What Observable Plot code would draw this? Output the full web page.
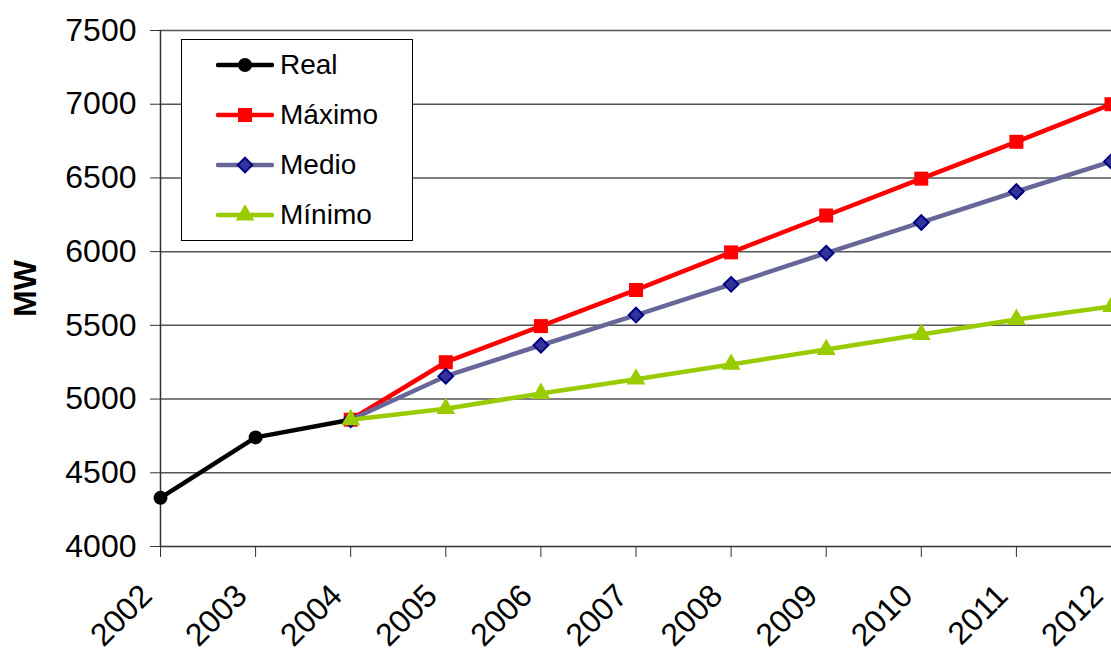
<!DOCTYPE html>
<html>
<head>
<meta charset="utf-8">
<script src="https://cdn.jsdelivr.net/npm/d3@7"></script>
<script src="https://cdn.jsdelivr.net/npm/@observablehq/plot@0.6"></script>
<style>
  html, body { margin: 0; padding: 0; background: #fff; overflow: hidden; }
  #wrap { position: relative; width: 1111px; height: 657px; font-family: "Liberation Sans", Arial, sans-serif; }
  #legend { position: absolute; left: 181px; top: 39px; width: 232px; height: 202px; border: 1.5px solid #000; background: #fff; box-sizing: border-box; }
  .item { position: absolute; left: 34px; height: 40px; display: flex; align-items: center; font-size: 28px; color: #000; }
  .item svg { margin-right: 6px; }
</style>
</head>
<body>
<div id="wrap"><div id="legend"></div></div>
<script>
const years = [2002, 2003, 2004, 2005, 2006, 2007, 2008, 2009, 2010, 2011, 2012];
const yTicks = [4000, 4500, 5000, 5500, 6000, 6500, 7000, 7500];
const realYears = [2002, 2003, 2004];
const real = [4330, 4740, 4860];
const projYears = [2004, 2005, 2006, 2007, 2008, 2009, 2010, 2011, 2012];
const maximo = [4860, 5250, 5495, 5740, 5995, 6245, 6495, 6745, 7000];
const medio = [4860, 5155, 5365, 5570, 5778, 5990, 6198, 6408, 6612];
const minimo = [4860, 4935, 5038, 5135, 5235, 5336, 5438, 5540, 5628];

const series = [
  {name: "Real", xs: realYears, ys: real, line: "#000000", fill: "#000000", stroke: "none", symbol: "circle", r: 7, sw: 0},
  {name: "Máximo", xs: projYears, ys: maximo, line: "#ff0000", fill: "#ff0000", stroke: "none", symbol: "square", r: 7.9, sw: 0},
  {name: "Medio", xs: projYears, ys: medio, line: "#666699", fill: "#333399", stroke: "#000080", symbol: "diamond2", r: 6.6, sw: 2},
  {name: "Mínimo", xs: projYears, ys: minimo, line: "#99cc00", fill: "#99cc00", stroke: "none", symbol: "triangle", r: 7, sw: 0}
];

const marks = [
  Plot.ruleY(yTicks.slice(1), {stroke: "#555", strokeWidth: 1.5}),
  Plot.ruleY([4000], {stroke: "#333", strokeWidth: 1.5}),
  Plot.ruleX([2002], {stroke: "#333", strokeWidth: 1.5}),
  Plot.axisY({ticks: yTicks, tickFormat: d => String(d), tickSize: 10, tickPadding: 14, fontSize: 32, label: null, stroke: "#333"}),
  Plot.axisX({ticks: years, tickFormat: () => "", tickSize: 11, label: null, stroke: "#333"}),
  Plot.axisX({ticks: years, tickFormat: d => String(d), tickRotate: -45, tickSize: 0, tickPadding: 44, dx: -14, fontSize: 32, label: null}),
  Plot.text(["MW"], {frameAnchor: "left", textAnchor: "middle", rotate: -90, dx: -135, fontWeight: "bold", fontSize: 32, fill: "#000"})
];
for (const s of series) {
  const data = s.xs.map((x, i) => ({x, y: s.ys[i]}));
  marks.push(Plot.line(data, {x: "x", y: "y", stroke: s.line, strokeWidth: 4.5}));
  marks.push(Plot.dot(data, {x: "x", y: "y", symbol: s.symbol, r: s.r, fill: s.fill, stroke: s.stroke, strokeWidth: s.sw}));
}

const chart = Plot.plot({
  width: 1111,
  height: 657,
  marginLeft: 160,
  marginRight: 0,
  marginTop: 30,
  marginBottom: 111,
  style: {fontFamily: "Liberation Sans, Arial, sans-serif", color: "#000", background: "#fff"},
  x: {type: "linear", domain: [2002, 2012]},
  y: {domain: [4000, 7500]},
  marks
});
document.getElementById("wrap").prepend(chart);

// Legend
const legend = d3.select("#legend");
series.forEach((s, i) => {
  const item = legend.append("div").attr("class", "item").style("top", (5 + i * 50) + "px");
  const svg = item.append("svg").attr("width", 58).attr("height", 20);
  svg.append("line").attr("x1", 2).attr("x2", 56).attr("y1", 10).attr("y2", 10).attr("stroke", s.line).attr("stroke-width", 4.5).attr("stroke-linecap", "round");
  const sym = {circle: d3.symbolCircle, square: d3.symbolSquare, diamond2: d3.symbolDiamond2, triangle: d3.symbolTriangle}[s.symbol];
  svg.append("path").attr("transform", "translate(29,10)").attr("d", d3.symbol(sym, s.r * s.r * Math.PI)())
    .attr("fill", s.fill).attr("stroke", s.stroke).attr("stroke-width", s.sw);
  item.append("span").text(s.name);
});
</script>
</body>
</html>
